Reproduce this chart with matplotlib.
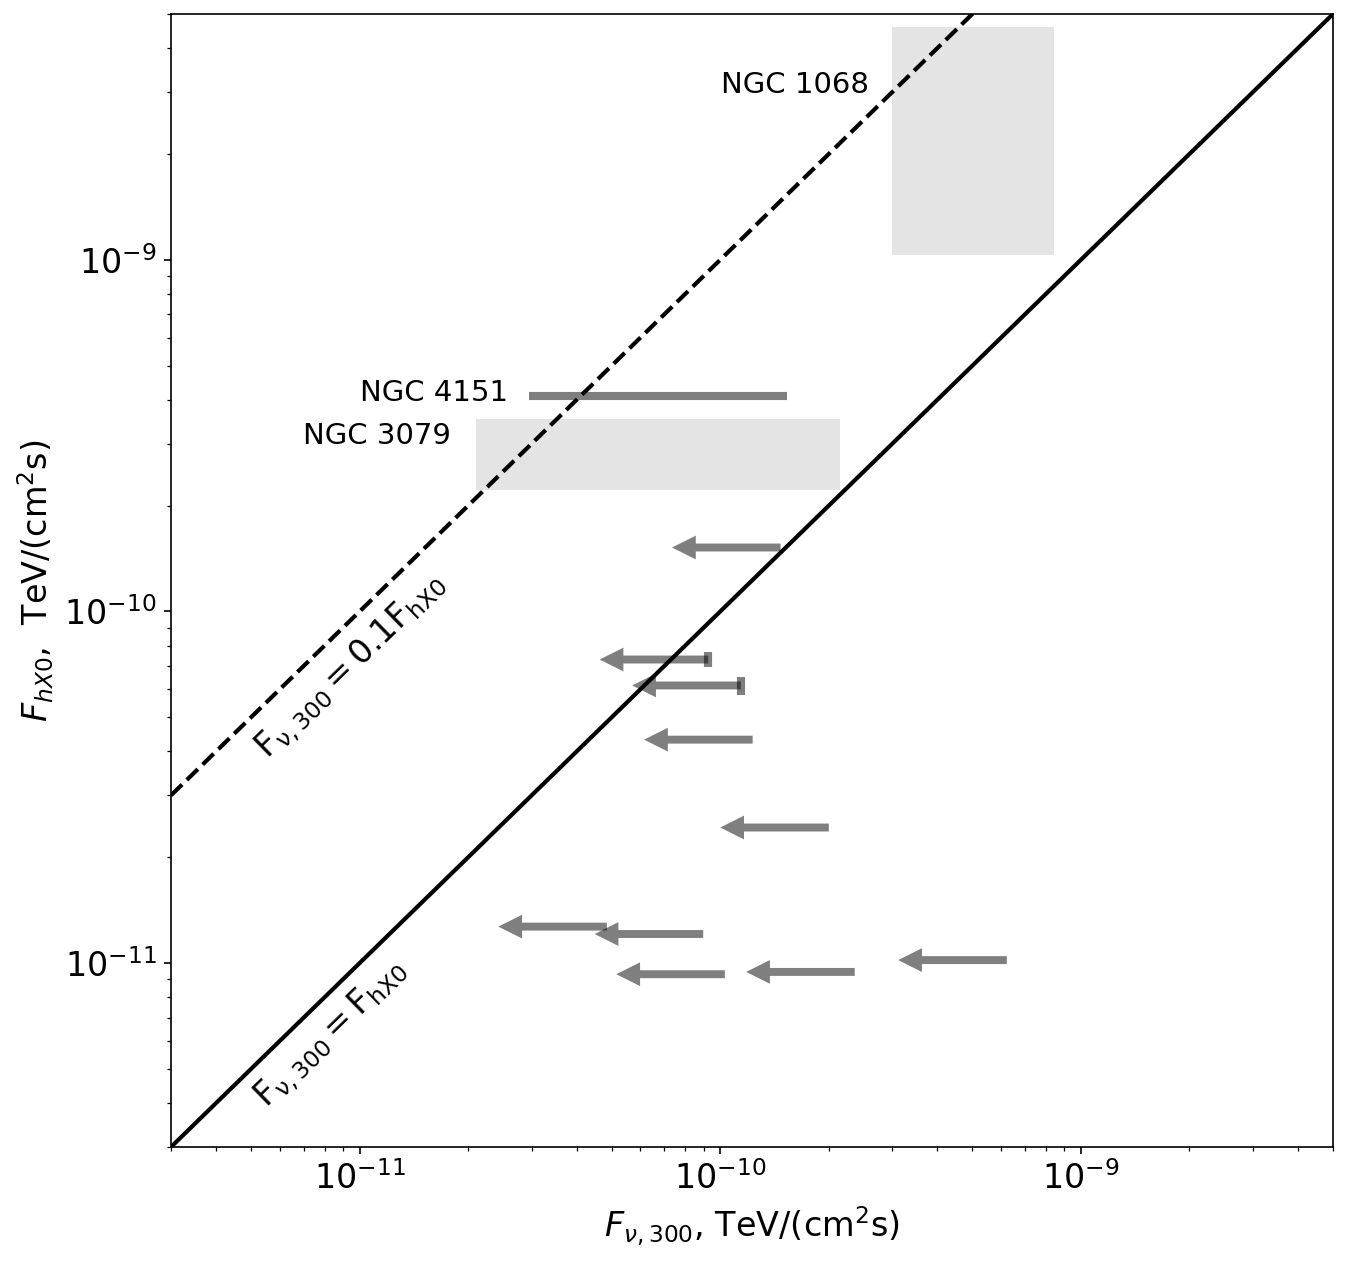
import numpy as np
import matplotlib.pyplot as plt
from matplotlib.patches import Rectangle

# Пределы осей
lim = [3e-12, 5e-9]

# Верхние пределы (стрелки влево): F_nu,300 и F_hX0
ul_x = [1.47e-10, 9.26e-11, 1.14e-10, 1.23e-10, 2.0e-10, 4.85e-11, 8.97e-11, 1.03e-10, 2.36e-10, 6.23e-10]
ul_y = [1.52e-10, 7.3e-11, 6.16e-11, 4.32e-11, 2.43e-11, 1.27e-11, 1.21e-11, 9.3e-12, 9.44e-12, 1.02e-11]

# Вертикальные отрезки на хвостах двух стрелок
bar_x = [9.26e-11, 1.14e-10]
bar_lo = [6.93e-11, 5.77e-11]
bar_hi = [7.65e-11, 6.53e-11]

# Области для NGC 1068 и NGC 3079
box_names = ["NGC 1068", "NGC 3079"]
box_x = [[3.0e-10, 8.4e-10], [2.1e-11, 2.15e-10]]
box_y = [[1.03e-9, 4.6e-9], [2.21e-10, 3.52e-10]]
box_label_pos = [[2.58e-10, 3.14e-9], [1.79e-11, 3.16e-10]]

# NGC 4151
n4151_x = [2.95e-11, 1.53e-10]
n4151_y = 4.09e-10
n4151_label_pos = [2.58e-11, 4.19e-10]

fig = plt.figure(figsize=(1348 / 150, 1263 / 150), dpi=150)
ax = fig.add_axes([171 / 1348, 1 - 1147 / 1263, 1162 / 1348, 1133 / 1263])
ax.set_xscale("log")
ax.set_yscale("log")

# Области
for name, bx, by, pos in zip(box_names, box_x, box_y, box_label_pos):
    ax.add_patch(Rectangle((bx[0], by[0]), bx[1] - bx[0], by[1] - by[0],
                           facecolor="0.895", edgecolor="none", zorder=1))
    ax.text(pos[0], pos[1], name, fontsize=14, ha="right", va="center")

ax.plot(n4151_x, [n4151_y, n4151_y], color="k", alpha=0.5, lw=3.9, zorder=2,
        solid_capstyle="butt")
ax.text(n4151_label_pos[0], n4151_label_pos[1], "NGC 4151", fontsize=14, ha="right", va="center")

# Стрелки
for x, y in zip(ul_x, ul_y):
    ax.annotate("", xy=(x / 2, y), xytext=(x, y),
                arrowprops=dict(arrowstyle="simple,head_length=0.6,head_width=0.6,tail_width=0.2",
                                mutation_scale=19, color="k", alpha=0.5, lw=0,
                                shrinkA=0, shrinkB=0), zorder=2)
for x, lo, hi in zip(bar_x, bar_lo, bar_hi):
    ax.plot([x, x], [lo, hi], color="k", alpha=0.5, lw=3.9, zorder=2, solid_capstyle="butt")

# Линии
xx = np.array(lim)
ax.plot(xx, xx, color="k", lw=2, zorder=3)
ax.plot(xx, 10 * xx, color="k", lw=2, ls="--", zorder=3)

ax.text(9.5e-12, 6.98e-11, r"$\mathrm{F_{\nu,300} = 0.1F_{hX0}}$", fontsize=16,
        rotation=44.3, ha="center", va="center", rotation_mode="anchor")
ax.text(8.36e-12, 6.28e-12, r"$\mathrm{F_{\nu,300} = F_{hX0}}$", fontsize=16,
        rotation=44.3, ha="center", va="center", rotation_mode="anchor")

ax.set_xlim(lim)
ax.set_ylim(lim)
ax.tick_params(labelsize=16)
ax.set_xlabel(r"$F_{\nu,300}$, TeV/(cm$^2$s)", fontsize=16)
ax.set_ylabel(r"$F_{hX0}$,  TeV/(cm$^2$s)", fontsize=16)

plt.savefig("out.png", dpi=150)
